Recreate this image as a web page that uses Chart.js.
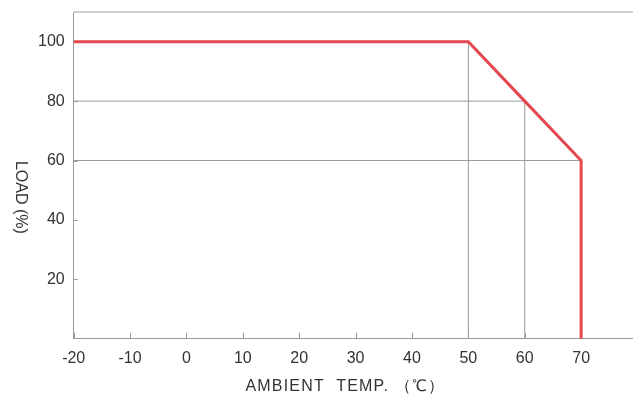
<!DOCTYPE html>
<html>
<head>
<meta charset="utf-8">
<script src="https://cdn.jsdelivr.net/npm/chart.js@4/dist/chart.umd.min.js"></script>
<style>
html,body{margin:0;padding:0;background:#fff;}
#wrap{width:633px;height:400px;position:relative;}
</style>
</head>
<body>
<div id="wrap"><canvas id="c" width="633" height="400"></canvas></div>
<script>
// ---- data ----
const tempC = [-20, 50, 60, 70, 70];
const loadPct = [100, 100, 80, 60, 0];
const xTickLabels = [-20, -10, 0, 10, 20, 30, 40, 50, 60, 70];
const yTickLabels = [20, 40, 60, 80, 100];
// guide lines: [x1, y1, x2, y2]
const guide50 = [50, 0, 50, 100];
const guide60v = [60, 0, 60, 80];
const guide80h = [-20, 80, 60, 80];
const guide60h = [-20, 60, 70, 60];
const xTitle = 'AMBIENT  TEMP. （℃）';
const yTitle = 'LOAD (%)';

const guides = [guide50, guide60v, guide80h, guide60h];
const FONT = "'Liberation Sans', Arial, sans-serif";

const guideSets = guides.map(g => ({
  data: [{x: g[0], y: g[1]}, {x: g[2], y: g[3]}],
  borderColor: '#9a9a9a', borderWidth: 1, pointRadius: 0, showLine: true, order: 2
}));

const extras = {
  id: 'extras',
  beforeDatasetsDraw(chart) {
    const {ctx, chartArea: a, scales: {x, y}} = chart;
    ctx.save();
    // top border
    ctx.strokeStyle = '#cfcfcf'; ctx.lineWidth = 2;
    ctx.beginPath(); ctx.moveTo(a.left, a.top); ctx.lineTo(a.right, a.top); ctx.stroke();
    // inward tick marks
    ctx.strokeStyle = '#9a9a9a'; ctx.lineWidth = 1;
    xTickLabels.forEach(v => {
      const px = Math.round(x.getPixelForValue(v)) + 0.5;
      ctx.beginPath(); ctx.moveTo(px, a.bottom); ctx.lineTo(px, a.bottom - 6); ctx.stroke();
    });
    yTickLabels.forEach(v => {
      const py = Math.round(y.getPixelForValue(v)) + 0.5;
      ctx.beginPath(); ctx.moveTo(a.left, py); ctx.lineTo(a.left + 4, py); ctx.stroke();
    });
    ctx.restore();
  },
  afterDraw(chart) {
    const {ctx, chartArea: a} = chart;
    ctx.save();
    ctx.fillStyle = '#333';
    ctx.font = '16px ' + FONT;
    ctx.textAlign = 'center'; ctx.textBaseline = 'middle';
    // x title
    ctx.save();
    if ('letterSpacing' in ctx) ctx.letterSpacing = '1.2px';
    ctx.fillText(xTitle, (a.left + a.right) / 2 - 8, a.bottom + 48);
    ctx.restore();
    // y title (rotated clockwise)
    ctx.translate(20, (a.top + a.bottom) / 2 + 22);
    ctx.rotate(Math.PI / 2);
    ctx.fillText(yTitle, 0, 0);
    ctx.restore();
  }
};

new Chart(document.getElementById('c'), {
  type: 'scatter',
  data: {
    datasets: [{
      data: tempC.map((t, i) => ({x: t, y: loadPct[i]})),
      borderColor: '#e4474d', borderWidth: 3, pointRadius: 0, showLine: true,
      borderJoinStyle: 'miter', order: 1
    }, ...guideSets]
  },
  options: {
    responsive: false, animation: false,
    layout: {padding: {left: 29, right: 0, top: 12, bottom: 22}},
    plugins: {legend: {display: false}, tooltip: {enabled: false}},
    scales: {
      x: {
        type: 'linear', min: -20, max: 79.2,
        afterBuildTicks: s => { s.ticks = xTickLabels.map(v => ({value: v})); },
        grid: {display: true, drawOnChartArea: false, drawTicks: false},
        border: {color: '#9a9a9a', width: 1},
        ticks: {color: '#333', font: {family: FONT, size: 16}, padding: 10, maxRotation: 0, autoSkip: false},
        title: {display: false, text: xTitle}
      },
      y: {
        type: 'linear', min: 0, max: 110,
        afterBuildTicks: s => { s.ticks = yTickLabels.map(v => ({value: v})); },
        afterFit: s => { s.paddingTop = 0; s.paddingBottom = 0; },
        grid: {display: true, drawOnChartArea: false, drawTicks: false},
        border: {color: '#9a9a9a', width: 1},
        ticks: {color: '#333', font: {family: FONT, size: 16}, padding: 9}
      }
    }
  },
  plugins: [extras]
});
</script>
</body>
</html>
